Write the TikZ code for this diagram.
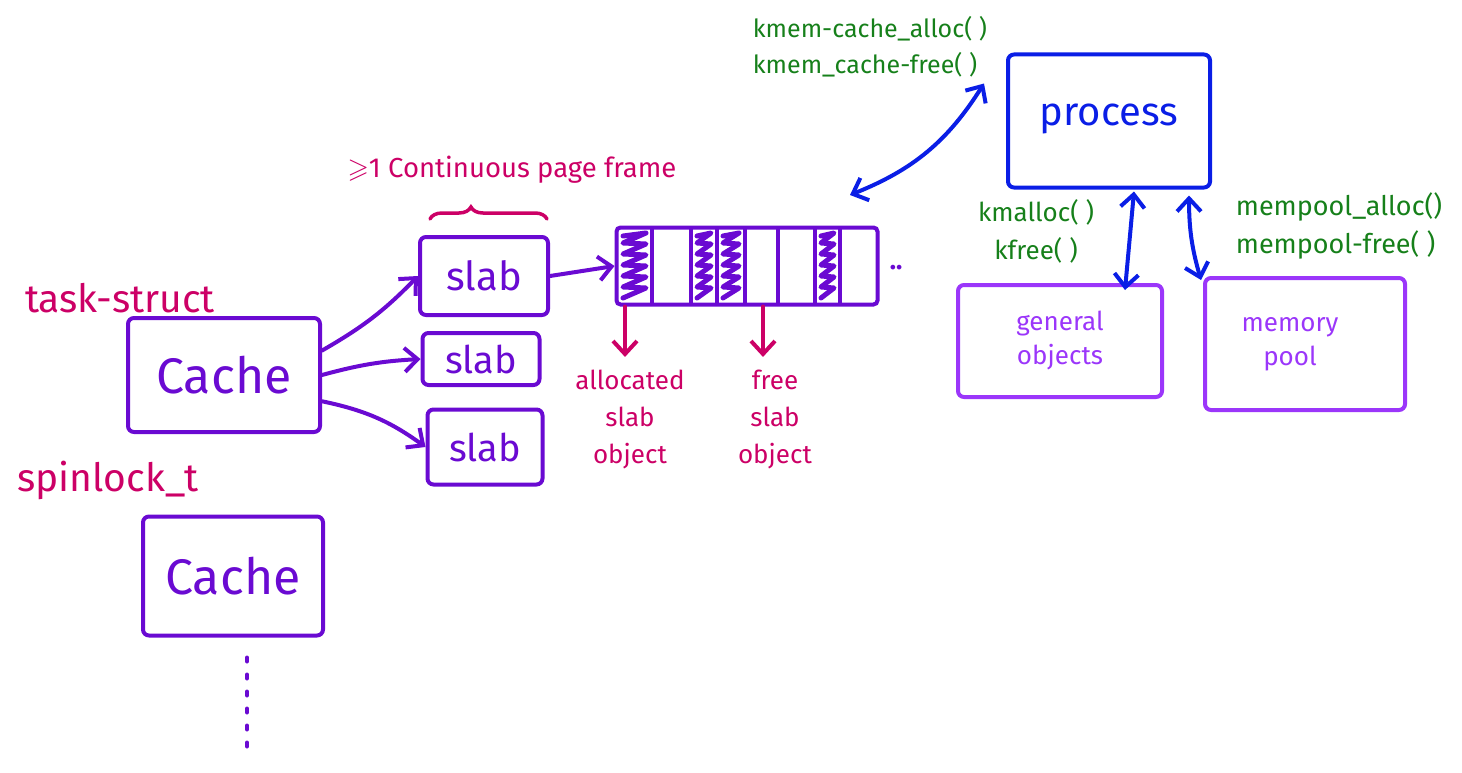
\documentclass[tikz,border=0pt]{standalone}
\usepackage{amsmath}
\usepackage{amssymb}
\usepackage{fontspec}
\setmainfont{Fira Sans}
\usepackage{tikz}
\usetikzlibrary{arrows.meta,decorations.pathreplacing}
\usepackage{xcolor}
\definecolor{slabpurple}{HTML}{6A0AD2}
\definecolor{lightpurple}{HTML}{9B36FA}
\definecolor{pinktext}{HTML}{CC0066}
\definecolor{apigreen}{HTML}{16801A}
\definecolor{procblue}{HTML}{0A1EE6}

\begin{document}
\begin{tikzpicture}[x=1pt, y=-1pt,
    box/.style={draw=slabpurple, line width=4pt, rounded corners=6pt,
      inner sep=0pt, text=slabpurple},
    objbox/.style={box, draw=lightpurple, text=lightpurple, align=center,
      font=\fontsize{26}{34}\selectfont},
    link/.style={draw=slabpurple, line width=4pt, line cap=round,
      -{Straight Barb[length=13pt,width=24pt]}},
    pinklink/.style={link, draw=pinktext},
    bluelink/.style={link, draw=procblue,
      {Straight Barb[length=13pt,width=24pt]}-{Straight Barb[length=13pt,width=24pt]}},
    tag/.style={text=pinktext, font=\fontsize{39}{40}\selectfont},
    note/.style={text=pinktext, align=center, font=\fontsize{26}{37}\selectfont},
    api/.style={text=apigreen, font=\fontsize{25}{36}\selectfont}]
  \useasboundingbox (0,0) rectangle (1462,773);

  % caches and slabs
  \node[tag] (tasktag) at (120,298) {task-struct};
  \node[box, minimum width=192pt, minimum height=114pt,
    font=\fontsize{50}{50}\selectfont] (cache1) at (224,375) {Cache};
  \node[tag] (locktag) at (108,480) {spinlock\_t};
  \node[box, minimum width=180pt, minimum height=119pt,
    font=\fontsize{50}{50}\selectfont] (cache2) at (233,576) {Cache};
  \coordinate (more) at (247,752);
  \draw[slabpurple, line width=4pt, line cap=round, dash pattern=on 4pt off 13pt]
    ([xshift=14pt, yshift=-20pt]cache2.south) -- (more);

  \node[box, minimum width=128pt, minimum height=78pt,
    font=\fontsize{40}{40}\selectfont] (slab1) at (484,276) {slab};
  \node[box, minimum width=117pt, minimum height=52pt,
    font=\fontsize{38}{38}\selectfont] (slab2) at (481,359) {slab};
  \node[box, minimum width=115pt, minimum height=75pt,
    font=\fontsize{38}{38}\selectfont] (slab3) at (485,447) {slab};

  \draw[link] (cache1.14) to[bend right=8] (slab1.west);
  \draw[link] (cache1.east) to[bend left=6] (slab2.west);
  \draw[link] (cache1.-15) to[bend left=12] (slab3.west);

  % page frame
  \draw[pinktext, line width=3.5pt, line cap=round,
    decorate, decoration={brace, amplitude=12pt, aspect=0.35}]
    ([shift={(12,-16)}]slab1.north west) -- ([shift={(-3,-16)}]slab1.north east);
  \node[text=pinktext, font=\fontsize{27.5}{30}\selectfont] (pagetag) at (512,170)
    {$\geqslant$1 Continuous page frame};

  \node[box, rounded corners=4pt, minimum width=261pt, minimum height=77pt]
    (frame) at (747,266) {};
  \draw[link] (slab1.east) -- (frame.west);
  \foreach \x in {652,691,717,745,778,815,840}
    \draw[slabpurple, line width=4pt, line cap=round] (\x,229) -- (\x,304);
  \foreach \a/\b in {617/652,691/717,717/745,815/840}
    \draw[slabpurple, line width=5pt, line join=round, line cap=round]
      (\a+6,236) \foreach \k in {0,...,5}{ -- (\b-6,233+\k*11) -- (\a+6,243+\k*11) };
  \node[text=slabpurple, font=\fontsize{26}{26}\selectfont\bfseries] (dots) at (896,268) {..};

  \node[note] (alloc) at (630,420) {allocated\\slab\\object};
  \node[note] (freeobj) at (775,420) {free\\slab\\object};
  \draw[pinklink] ([xshift=-5pt]alloc.north |- frame.south) -- ([xshift=-5pt, yshift=10pt]alloc.north);
  \draw[pinklink] ([xshift=-12pt]freeobj.north |- frame.south) -- ([xshift=-12pt, yshift=10pt]freeobj.north);

  % process side
  \node[box, draw=procblue, text=procblue, minimum width=202pt, minimum height=133pt,
    font=\fontsize{40}{40}\selectfont] (process) at (1109,121) {\raisebox{12pt}{process}};
  \node[api, align=left] (kmemapi) at (870,47) {kmem-cache\_alloc( )\\kmem\_cache-free( )};
  \coordinate (kmemend) at (850,195);
  \draw[bluelink] (kmemend) to[bend right=18] ([xshift=-22pt]process.160);

  \node[objbox, minimum width=204pt, minimum height=112pt] (general) at (1060,341)
    {general\\objects};
  \node[objbox, minimum width=200pt, minimum height=132pt] (mempool) at (1305,344)
    {\hspace*{-30pt}memory\\\hspace*{-30pt}pool};

  \node[api, font=\fontsize{26}{38}\selectfont, align=center] (kmallocapi) at (1036,231) {kmalloc( )\\kfree( )};
  \node[api, font=\fontsize{27}{38}\selectfont, align=left] (poolapi) at (1339,226) {mempool\_alloc()\\mempool-free( )};
  \draw[bluelink] ([xshift=25pt, yshift=-2pt]process.south) -- ([xshift=65pt, yshift=-7pt]general.north);
  \draw[bluelink] ([xshift=80pt, yshift=-6pt]process.south) to[bend right=8] ([xshift=-2pt, yshift=-4pt]mempool.north west);
\end{tikzpicture}
\end{document}
